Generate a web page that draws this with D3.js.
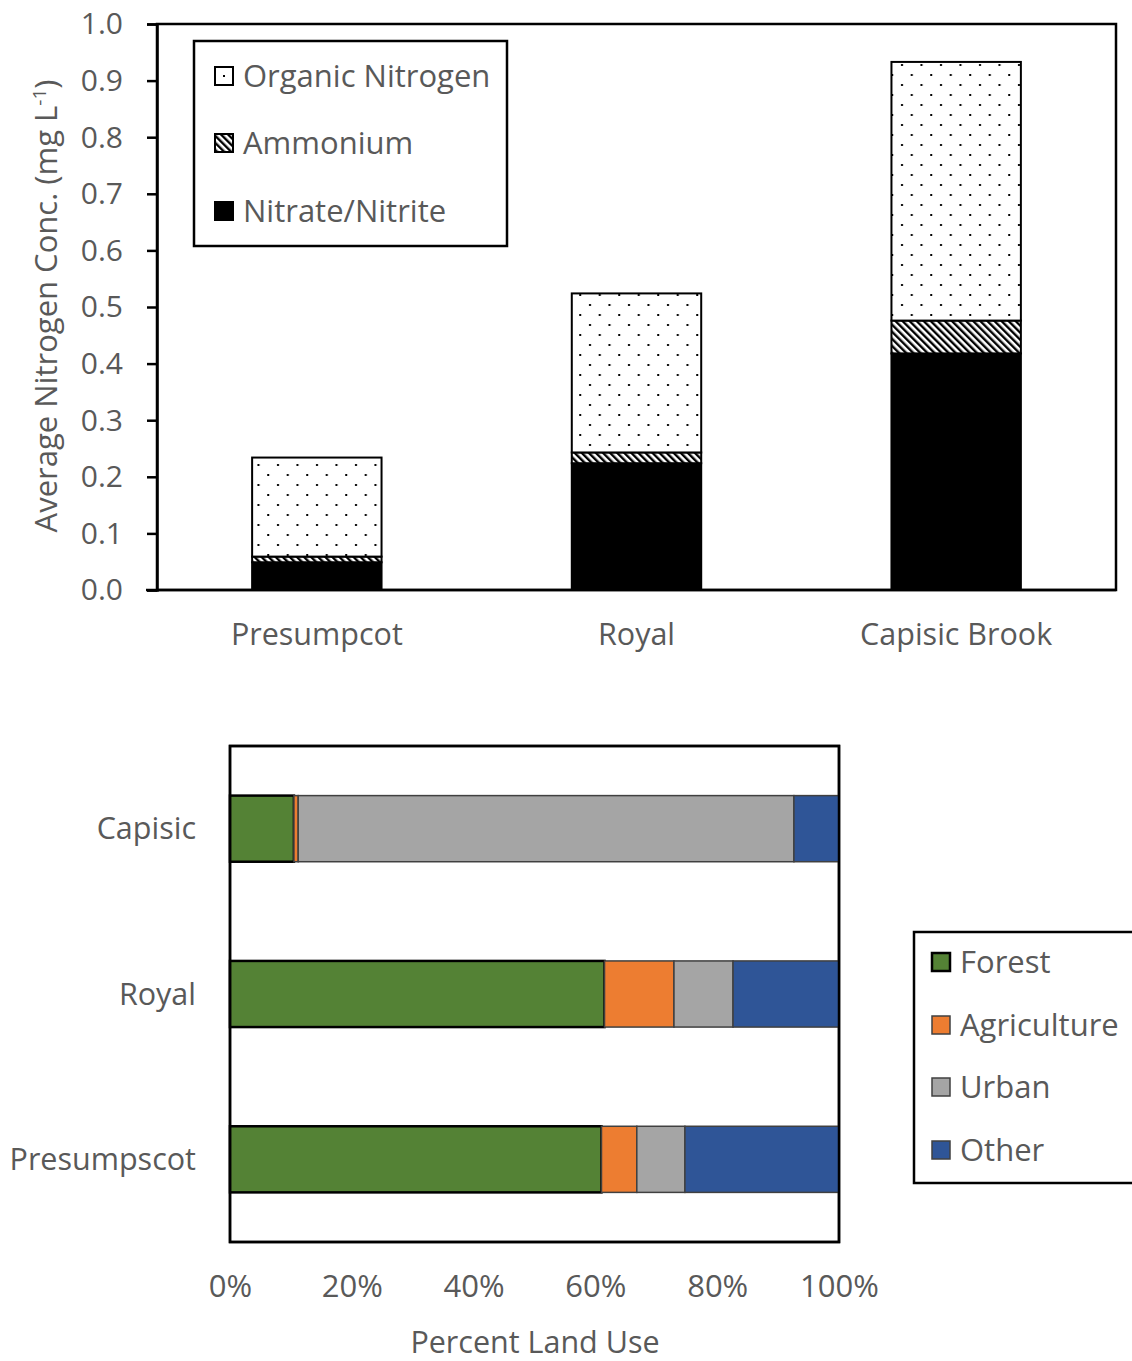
<!DOCTYPE html>
<html><head><meta charset="utf-8">
<script src="https://cdn.jsdelivr.net/npm/d3@7"></script>
<style>
body{margin:0;background:#fff;}
text{font-family:"Open Sans","Lato",sans-serif;fill:#595959;}
</style></head>
<body>
<svg id="chart" width="1132" height="1361"></svg>
<script>
// ---- Top chart data ----
const sites = ["Presumpcot", "Royal", "Capisic Brook"];
const nitrate = [0.049, 0.224, 0.418];
const ammonium = [0.010, 0.019, 0.058];
const organic = [0.175, 0.281, 0.457];
const nSeries = ["Nitrate/Nitrite", "Ammonium", "Organic Nitrogen"];
const yTicks = [0, 0.1, 0.2, 0.3, 0.4, 0.5, 0.6, 0.7, 0.8, 0.9, 1.0];

// ---- Bottom chart data ----
const watersheds = ["Capisic", "Royal", "Presumpscot"];
const forest = [10.5, 61.5, 61.0];
const agriculture = [0.7, 11.4, 5.8];
const urban = [81.4, 9.7, 7.9];
const other = [7.4, 17.4, 25.3];
const landSeries = ["Forest", "Agriculture", "Urban", "Other"];
const landColors = ["#548235", "#ED7D31", "#A5A5A5", "#2F5597"];
const xTicks = [0, 20, 40, 60, 80, 100];

const svg = d3.select("#chart");
const defs = svg.append("defs");

// Dots pattern (organic)
const pd = defs.append("pattern").attr("id","dots").attr("patternUnits","userSpaceOnUse")
  .attr("width",19.5).attr("height",20);
pd.append("rect").attr("width",19.5).attr("height",20).attr("fill","#fff");
pd.append("rect").attr("x",4).attr("y",4).attr("width",2).attr("height",2).attr("fill","#000");
pd.append("rect").attr("x",13.75).attr("y",14).attr("width",2).attr("height",2).attr("fill","#000");
// Legend dot pattern (centered dot)
const pl = defs.append("pattern").attr("id","dotsLeg").attr("patternUnits","objectBoundingBox")
  .attr("width",1).attr("height",1);
pl.append("rect").attr("width",18).attr("height",18).attr("fill","#fff");
pl.append("rect").attr("x",8).attr("y",8).attr("width",2).attr("height",2).attr("fill","#000");
// Hatch pattern (ammonium)
const ph = defs.append("pattern").attr("id","hatch").attr("patternUnits","userSpaceOnUse")
  .attr("width",5).attr("height",5).attr("patternTransform","rotate(-45)");
ph.append("rect").attr("width",5).attr("height",5).attr("fill","#fff");
ph.append("rect").attr("x",0).attr("y",0).attr("width",2.4).attr("height",5).attr("fill","#000");

// ================= Top chart =================
const T = {left:157, right:1116, top:24, bottom:590};
const x1 = d3.scaleBand().domain(sites).range([T.left, T.right]).padding(0);
const y1 = d3.scaleLinear().domain([0,1]).range([T.bottom, T.top]);
const barW = x1.bandwidth()/2.47;

const g1 = svg.append("g");
// frame
g1.append("rect").attr("x",T.left).attr("y",T.top).attr("width",T.right-T.left).attr("height",T.bottom-T.top)
  .attr("fill","none").attr("stroke","#000").attr("stroke-width",2.5);

const fills = ["#000","url(#hatch)","url(#dots)"];
const stackData = sites.map((s,i)=>({site:s, vals:[nitrate[i], ammonium[i], organic[i]]}));
stackData.forEach(d=>{
  let base = 0;
  const cx = x1(d.site) + x1.bandwidth()/2;
  d.vals.forEach((v,k)=>{
    g1.append("rect").attr("x",cx-barW/2).attr("y",y1(base+v)).attr("width",barW)
      .attr("height",y1(base)-y1(base+v)).attr("fill",fills[k]).attr("stroke","#000").attr("stroke-width",2);
    base += v;
  });
});

// y axis
const yAxis = d3.axisLeft(y1).tickValues(yTicks).tickFormat(d3.format(".1f")).tickSize(10).tickPadding(24);
const ya = g1.append("g").attr("transform",`translate(${T.left},0)`).call(yAxis);
ya.select(".domain").attr("stroke","#000").attr("stroke-width",2.5);
ya.selectAll(".tick line").attr("stroke","#000").attr("stroke-width",2.5);
ya.selectAll(".tick text").style("font-size","30px").attr("fill","#595959").attr("dy","0.33em");
// x axis line extension
g1.append("line").attr("x1",146).attr("x2",T.right).attr("y1",T.bottom).attr("y2",T.bottom)
  .attr("stroke","#000").attr("stroke-width",2.5);
// x labels
const xa = g1.append("g").attr("transform",`translate(0,${T.bottom})`)
  .call(d3.axisBottom(x1).tickSize(0).tickPadding(33));
xa.select(".domain").remove();
xa.selectAll(".tick text").style("font-size","30.5px").attr("fill","#595959").attr("dy","0.71em");

// y title
const yt = g1.append("text").attr("transform",`translate(57,306) rotate(-90)`).attr("text-anchor","middle")
  .style("font-size","31px");
yt.append("tspan").text("Average Nitrogen Conc. (mg L");
yt.append("tspan").attr("dy",-11).style("font-size","19px").text("-1");
yt.append("tspan").attr("dy",11).text(")");

// legend top
const L1 = g1.append("g");
L1.append("rect").attr("x",194).attr("y",41).attr("width",313).attr("height",205)
  .attr("fill","#fff").attr("stroke","#000").attr("stroke-width",2.5);
const legTop = [{n:"Organic Nitrogen",f:"url(#dotsLeg)",y:76},{n:"Ammonium",f:"url(#hatch)",y:143},{n:"Nitrate/Nitrite",f:"#000",y:211}];
legTop.forEach(d=>{
  L1.append("rect").attr("x",215).attr("y",d.y-9).attr("width",18).attr("height",18)
    .attr("fill",d.f).attr("stroke","#000").attr("stroke-width",2);
  L1.append("text").attr("x",243).attr("y",d.y).attr("dy","0.35em").style("font-size","31px").text(d.n);
});

// ================= Bottom chart =================
const B = {left:230, right:839, top:746, bottom:1242};
const x2 = d3.scaleLinear().domain([0,100]).range([B.left, B.right]);
const y2 = d3.scaleBand().domain(watersheds).range([B.top, B.bottom]).padding(0);
const barH = y2.bandwidth()/2.5;
const g2 = svg.append("g");
g2.append("rect").attr("x",B.left).attr("y",B.top).attr("width",B.right-B.left).attr("height",B.bottom-B.top)
  .attr("fill","#fff").attr("stroke","#000").attr("stroke-width",2.5);

const landVals = [forest, agriculture, urban, other];
watersheds.forEach((w,i)=>{
  let base = 0;
  const cy = y2(w) + y2.bandwidth()/2;
  landVals.forEach((arr,k)=>{
    const v = arr[i];
    g2.append("rect").attr("x",x2(base)).attr("y",cy-barH/2).attr("width",x2(base+v)-x2(base))
      .attr("height",barH).attr("fill",landColors[k])
      .attr("stroke", k===0?"#000":"#404040").attr("stroke-width",k===0?2.5:1.5);
    base += v;
  });
});
// redraw frame on top
g2.append("rect").attr("x",B.left).attr("y",B.top).attr("width",B.right-B.left).attr("height",B.bottom-B.top)
  .attr("fill","none").attr("stroke","#000").attr("stroke-width",2.5);

const xa2 = g2.append("g").attr("transform",`translate(0,${B.bottom})`)
  .call(d3.axisBottom(x2).tickValues(xTicks).tickFormat(d=>d+"%").tickSize(0).tickPadding(33));
xa2.select(".domain").remove();
xa2.selectAll(".tick text").style("font-size","31px").attr("fill","#595959").attr("dy","0.71em");

const ya2 = g2.append("g").attr("transform",`translate(${B.left},0)`)
  .call(d3.axisLeft(y2).tickSize(0).tickPadding(34));
ya2.select(".domain").remove();
ya2.selectAll(".tick text").style("font-size","30.5px").attr("fill","#595959").attr("dy","0.35em");

g2.append("text").attr("x",535).attr("y",1342).attr("dy","0.35em").attr("text-anchor","middle")
  .style("font-size","30.5px").text("Percent Land Use");

// legend bottom
const L2 = g2.append("g");
L2.append("rect").attr("x",914).attr("y",932).attr("width",230).attr("height",251)
  .attr("fill","#fff").attr("stroke","#000").attr("stroke-width",2.5);
const legY = [962, 1025, 1087, 1150];
landSeries.forEach((n,k)=>{
  L2.append("rect").attr("x",932).attr("y",legY[k]-9).attr("width",18).attr("height",18)
    .attr("fill",landColors[k]).attr("stroke",k===0?"#000":"#404040").attr("stroke-width",k===0?2.5:1.5);
  L2.append("text").attr("x",960).attr("y",legY[k]).attr("dy","0.35em").style("font-size","31px").text(n);
});
</script>
</body></html>
